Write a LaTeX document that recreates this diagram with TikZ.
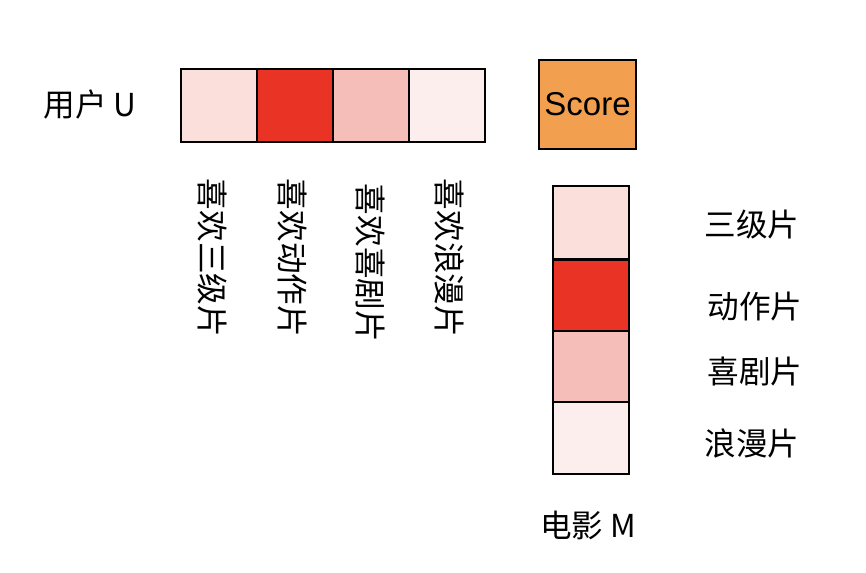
\documentclass[tikz,border=0pt]{standalone}
\usepackage{fontspec}
\setmainfont{Liberation Sans}
\newfontfamily\cjk{Noto Sans CJK SC}
\definecolor{pinkA}{HTML}{FADFDB}
\definecolor{redB}{HTML}{E93324}
\definecolor{pinkC}{HTML}{F5BEB8}
\definecolor{pinkD}{HTML}{FCEEEC}
\definecolor{scoreorange}{HTML}{F2A04F}
\begin{document}
\begin{tikzpicture}[x=0.5pt,y=-0.5pt,
    ubox/.style={draw,line width=1pt,minimum width=38pt,minimum height=36.5pt,inner sep=0pt},
    mbox/.style={draw,line width=1pt,minimum width=38pt,minimum height=36pt,inner sep=0pt},
    lbl/.style={font=\cjk\fontsize{15.8pt}{18pt}\selectfont,inner sep=0pt}]
    \useasboundingbox (0,0) rectangle (866,572);
    % user vector
    \node[ubox,fill=pinkA] (u1) at (219,105.5) {};
    \node[ubox,fill=redB]  (u2) at (295,105.5) {};
    \node[ubox,fill=pinkC] (u3) at (371,105.5) {};
    \node[ubox,fill=pinkD] (u4) at (447,105.5) {};
    \node[lbl] (user) at (90,105) {用户 U};
    % score
    \node[draw,line width=1pt,fill=scoreorange,minimum width=48.5pt,minimum height=44.5pt,inner sep=0pt,
          font=\fontsize{16.5pt}{18pt}\selectfont] (score) at (587.5,104.5) {Score};
    % vertical labels
    \node[lbl,rotate=-90] (l1) at (212,258) {喜欢三级片};
    \node[lbl,rotate=-90] (l2) at (292,258) {喜欢动作片};
    \node[lbl,rotate=-90] (l3) at (370,263) {喜欢喜剧片};
    \node[lbl,rotate=-90] (l4) at (450,258) {喜欢浪漫片};
    % movie vector
    \node[mbox,fill=pinkA] (m1) at (591,222.5) {};
    \node[mbox,fill=redB]  (m2) at (591,295.5) {};
    \node[mbox,fill=pinkC] (m3) at (591,367) {};
    \node[mbox,fill=pinkD] (m4) at (591,438) {};
    \node[lbl] (g1) at (752,225) {三级片};
    \node[lbl] (g2) at (755,307) {动作片};
    \node[lbl] (g3) at (755,372) {喜剧片};
    \node[lbl] (g4) at (752,443) {浪漫片};
    \node[lbl] (movie) at (588,525) {电影 M};
\end{tikzpicture}
\end{document}
